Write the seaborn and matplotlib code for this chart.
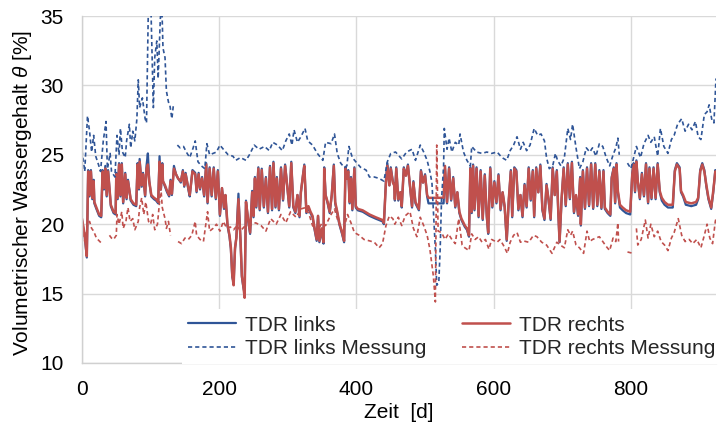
import numpy as np
import pandas as pd
import matplotlib
matplotlib.use("Agg")
import matplotlib.pyplot as plt
from matplotlib.lines import Line2D
import seaborn as sns

# model curves (TDR links / TDR rechts)
model_day = [0, 4, 7, 9, 11, 13, 15, 17, 18, 21, 25, 28, 30, 32, 34, 36, 38, 42, 46, 49,
             50, 52, 54, 56, 58, 60, 63, 65, 67, 71, 75, 79, 81, 83, 84, 87, 89, 92, 94, 96,
             98, 101, 105, 108, 111, 113, 115, 117, 118, 121, 124, 127, 129, 131, 134, 137, 140, 144, 147, 149,
             151, 155, 157, 161, 165, 167, 170, 172, 175, 178, 181, 183, 186, 189, 192, 195, 198, 201, 204, 207,
             209, 212, 215, 217, 219, 221, 223, 225,
             228, 231, 233, 235, 237, 239, 242, 245, 248, 250, 252, 254, 257, 259, 262, 265, 268, 271, 274, 277,
             279, 282, 284, 287, 290, 293, 296, 299, 302, 305, 308, 311, 314, 317, 319, 322, 324, 327, 330, 333,
             336, 339, 342, 344, 346, 349, 352, 353, 355, 358, 361, 364, 367, 369, 372, 375, 379, 382, 384, 386,
             388, 390, 392, 394, 397, 399, 402, 409, 419, 428, 438, 440, 443, 445, 448, 450, 453,
             455, 456, 458, 461, 464, 466, 469, 472, 475, 478, 481, 483, 486, 489, 491, 494, 497, 500, 503, 505,
             524, 527, 529, 532, 535, 538, 541, 544, 547, 550, 553, 556, 558, 561, 564, 566, 568, 570, 572, 575,
             578, 581, 584, 587, 590, 592, 595, 598, 601, 604, 607, 610, 613, 616, 619, 622, 625, 627, 630, 633,
             636, 639, 642, 645, 648, 651, 654, 657, 659, 662, 665, 668, 671, 674, 677, 680, 683, 686, 689, 692,
             694, 696, 699, 702, 705, 708, 711, 714, 717, 720, 723, 726, 727, 730, 733, 736, 739, 742, 745, 748,
             751, 754, 757, 760, 762, 766, 770, 772, 775, 777, 779, 781, 784, 788, 793, 799, 802, 804, 806, 808,
             810, 813, 816, 819, 822, 825, 827, 830, 833, 836, 839, 842, 845, 849, 854, 861, 864, 867, 871, 873,
             876, 880, 888, 895, 898, 901, 904, 907, 910, 913, 917, 920, 923, 924]

tdr_rechts = [20.4, 19.2, 17.7, 23.8, 22.1, 23.8, 21.9, 23.1, 21.6, 21.2, 20.7, 20.6, 23.8, 22.6, 24.0, 22.1, 23.8, 21.4, 20.9, 20.8,
              23.6, 21.9, 24.3, 22.1, 24.3, 21.6, 23.6, 21.9, 23.1, 21.8, 21.5, 21.4, 24.3, 22.6, 24.5, 22.8, 23.6, 22.1, 24.0, 24.3,
              23.1, 22.1, 21.9, 21.8, 21.6, 24.5, 22.6, 24.3, 23.1, 22.8, 22.4, 22.1, 23.1, 22.2, 24.0, 23.6, 23.3, 23.1, 23.8, 22.8,
              23.6, 22.6, 22.1, 23.8, 23.6, 22.4, 23.6, 22.6, 23.3, 22.1, 24.3, 21.6, 24.0, 22.1, 24.0, 21.9, 23.8, 20.7, 22.6, 21.2,
              22.1, 20.0, 19.2, 18.3, 16.3, 15.6, 18.3, 19.0,
              21.8, 18.9, 16.3, 15.6, 14.7, 21.6, 20.4, 19.4, 22.3, 20.6, 23.3, 21.3, 24.0, 21.1, 23.9, 21.3, 23.3, 20.9, 24.1, 21.1,
              24.4, 21.3, 23.3, 21.1, 24.0, 21.8, 24.2, 22.8, 21.3, 24.4, 21.3, 20.9, 22.1, 20.6, 22.3, 23.5, 24.2, 20.9, 21.3, 20.9,
              20.6, 19.7, 18.9, 20.6, 18.8, 19.7, 18.7, 24.0, 22.1, 21.6, 20.9, 22.1, 24.2, 21.6, 20.9, 20.1, 19.4, 18.8, 24.0, 23.3,
              23.8, 21.6, 23.3, 21.1, 24.0, 21.3, 21.1, 21.0, 20.7, 20.5, 20.3, 20.1, 23.0, 24.2, 22.8, 24.0, 23.0,
              22.8, 21.8, 24.0, 21.8, 22.3, 21.3, 24.0, 23.5, 24.2, 22.8, 21.3, 23.0, 21.6, 21.3, 21.1, 23.8, 23.0, 23.5, 22.1, 21.9,
              21.9, 21.9, 24.2, 21.6, 24.0, 21.8, 23.3, 21.3, 22.3, 20.9, 20.4, 20.1, 19.9, 19.7, 19.2, 24.0, 20.9, 24.2, 21.1, 24.0,
              20.6, 23.8, 20.4, 23.5, 20.6, 19.4, 24.0, 21.3, 23.0, 21.6, 23.5, 21.1, 22.3, 21.3, 18.9, 21.8, 23.8, 20.6, 24.0, 23.8,
              21.1, 22.1, 20.6, 22.8, 21.3, 24.0, 21.8, 23.8, 20.6, 24.0, 22.3, 24.2, 21.1, 20.4, 22.8, 21.8, 20.4, 24.0, 22.1, 23.8,
              21.1, 18.75, 21.9, 24.0, 21.4, 24.3, 21.9, 24.4, 20.9, 22.1, 20.7, 23.3, 20.0, 23.8, 21.2, 24.0, 21.4, 24.3, 21.2, 24.3,
              21.4, 23.8, 21.2, 23.8, 21.2, 20.9, 20.7, 23.3, 24.0, 21.6, 24.3, 22.4, 21.4, 21.2, 21.0, 20.9, 23.6, 24.3, 22.4, 24.5,
              23.1, 21.9, 23.6, 22.1, 24.3, 21.6, 24.0, 21.9, 24.0, 21.9, 24.3, 22.4, 21.9, 21.6, 21.4, 21.4, 23.8, 24.3, 24.0, 22.4,
              22.1, 21.6, 21.5, 21.6, 21.9, 23.8, 24.3, 23.8, 22.8, 21.9, 21.2, 22.4, 23.8, 23.6]

tdr_links = [20.3, 19.1, 17.6, 23.9, 22.0, 23.9, 21.8, 23.2, 21.5, 21.1, 20.6, 20.5, 23.9, 22.5, 24.2, 22.0, 23.9, 21.3, 20.8, 20.7,
             23.7, 21.8, 24.4, 22.0, 24.4, 21.5, 23.7, 21.8, 23.2, 21.7, 21.4, 21.3, 24.4, 22.5, 24.7, 22.7, 23.7, 22.0, 24.2, 25.1,
             23.1, 22.0, 21.8, 21.7, 21.5, 24.9, 22.5, 24.4, 23.1, 22.7, 22.3, 22.0, 23.2, 22.1, 24.2, 23.6, 23.3, 23.0, 23.9, 22.7,
             23.7, 22.5, 22.0, 23.9, 23.7, 22.3, 23.7, 22.5, 23.4, 22.0, 24.4, 21.5, 24.1, 22.0, 24.1, 21.8, 23.9, 20.6, 22.6, 21.1,
             22.1, 19.9, 19.1, 18.2, 16.2, 15.8, 18.2, 19.1,
             22.2, 18.8, 16.2, 15.5, 15.0, 21.7, 20.3, 19.3, 22.4, 20.5, 23.4, 21.2, 24.1, 21.0, 24.0, 21.2, 23.4, 20.8, 24.2, 21.0,
             24.5, 21.2, 23.4, 21.0, 24.1, 21.7, 24.3, 22.8, 21.2, 24.5, 21.2, 20.8, 22.1, 20.5, 22.3, 23.5, 24.3, 20.8, 21.2, 20.8,
             20.5, 19.6, 18.8, 20.6, 18.7, 19.6, 18.6, 24.1, 22.1, 21.5, 20.8, 22.1, 24.3, 21.5, 20.8, 20.0, 19.3, 18.7, 24.1, 23.3,
             23.9, 21.5, 23.4, 21.0, 24.1, 21.2, 21.0, 20.9, 20.6, 20.4, 20.2, 20.0, 23.2, 24.4, 22.8, 24.1, 23.1,
             22.8, 21.7, 24.1, 21.7, 22.3, 21.2, 24.1, 23.5, 24.3, 22.7, 21.2, 23.1, 21.5, 21.2, 21.0, 23.9, 23.0, 23.6, 22.0, 21.5,
             21.5, 21.5, 24.0, 21.5, 24.1, 21.7, 23.4, 21.2, 22.3, 20.8, 20.3, 20.0, 19.8, 19.6, 19.1, 24.1, 20.8, 24.3, 21.0, 24.1,
             20.5, 23.9, 20.3, 23.6, 20.5, 19.3, 24.1, 21.2, 23.1, 21.5, 23.6, 21.0, 22.3, 21.2, 18.8, 21.7, 23.9, 20.5, 24.1, 23.9,
             21.0, 22.1, 20.5, 22.9, 21.2, 24.1, 21.7, 23.9, 20.5, 24.1, 22.3, 24.3, 21.0, 20.3, 22.9, 21.7, 20.3, 24.1, 22.1, 23.9,
             21.0, 18.7, 21.8, 24.1, 21.3, 24.4, 21.8, 24.5, 20.8, 22.0, 20.6, 23.4, 19.9, 23.9, 21.1, 24.1, 21.3, 24.4, 21.1, 24.4,
             21.3, 23.9, 21.1, 23.9, 21.1, 20.8, 20.6, 23.4, 24.1, 21.5, 24.4, 22.3, 21.2, 21.0, 20.8, 20.7, 23.7, 24.4, 22.3, 24.6,
             23.1, 21.8, 23.7, 22.0, 24.4, 21.5, 24.1, 21.8, 24.1, 21.8, 24.4, 22.3, 21.7, 21.4, 21.2, 21.2, 23.9, 24.4, 24.1, 22.3,
             22.0, 21.4, 21.3, 21.4, 21.8, 23.9, 24.4, 23.9, 22.7, 21.8, 21.1, 22.3, 23.9, 23.7]

# measurements (None = gap in the record)
mess_links_day = [0, 4, 8, 11, 14, 17, 20, 24, 27, 31, 35, 37, 41, 43, 48, 51, 54, 56, 59, 63,
                  65, 69, 71, 74, 77, 80, 82, 84, 88, 92, 94, 97, 100, 104, 106, 109, 111, 114, 116, 118,
                  121, 123, 126, 128, 131, 133, 136,
                  139, 143, 148, 152, 157, 162, 165, 169, 174, 179, 182, 186, 191, 196, 201, 206, 213, 220, 224, 231,
                  239, 244, 251, 258, 266, 273, 278, 285, 292, 297, 302, 306, 309, 314, 319, 325, 329, 336, 343, 351,
                  355, 363, 368, 372, 377, 382, 386, 389, 394, 399, 406, 414, 419, 426, 433, 440, 445, 450, 457, 466,
                  473, 481, 486, 493, 498, 503, 507, 510, 512, 515, 517, 520, 522, 524, 527, 528, 532, 535, 539, 544,
                  549, 551, 556, 561, 566, 568, 575, 583, 590, 597, 605, 612, 619, 624, 629, 634, 639, 643, 648, 653,
                  659, 664, 669, 674, 677, 681, 686, 690, 693, 698, 703, 708, 712, 715, 720, 725, 730, 735, 740, 744,
                  749, 754, 759, 764, 769, 774, 778, 781, 783, 789,
                  795, 800, 808, 814, 819, 825, 829, 834, 839, 843, 848, 854, 859, 863, 868, 874, 879, 884, 889, 894,
                  898, 902, 907, 911, 914, 918, 921, 924]
mess_links = [25.3, 23.8, 27.8, 26.7, 25.2, 26.4, 24.9, 24.3, 23.8, 26.0, 27.4, 24.0, 25.1, 23.8, 23.4, 26.4, 25.0, 26.9, 25.2, 24.8,
              26.0, 27.2, 25.5, 26.7, 26.0, 27.6, 30.4, 28.4, 29.1, 27.6, 27.3, 36.5, 36.5, 28.4, 32.0, 33.2, 30.5, 34.6, 36.5, 32.7,
              32.0, 29.6, 28.8, 28.6, 27.6, 28.5, None,
              25.7, 25.5, 25.6, 25.2, 24.8, 25.5, 26.0, 24.5, 24.2, 24.0, 25.8, 25.0, 25.1, 25.2, 25.7, 25.4, 25.0, 24.9, 24.6, 24.8,
              24.6, 25.0, 25.7, 25.4, 25.6, 25.3, 25.9, 25.7, 25.3, 26.0, 26.5, 25.7, 26.8, 25.9, 26.3, 26.9, 26.0, 25.7, 25.1, 24.6,
              25.9, 25.8, 26.5, 25.1, 24.4, 24.1, 24.2, 25.6, 24.8, 24.5, 24.1, 23.9, 23.4, 23.4, 23.3, 23.1, 24.5, 25.1, 25.2, 24.7,
              25.2, 25.4, 24.6, 25.7, 25.2, 24.6, 23.8, 23.0, 21.1, 18.2, 15.6, 15.8, 18.2, 21.8, 24.2, 26.9, 25.4, 26.2, 25.2, 25.9,
              25.7, 26.5, 25.2, 24.6, 24.2, 25.6, 25.2, 25.1, 25.2, 25.1, 25.2, 24.8, 24.6, 25.3, 25.7, 26.3, 25.4, 25.9, 25.3, 25.7,
              26.9, 26.4, 26.5, 26.0, 24.8, 24.0, 24.2, 25.1, 24.6, 24.2, 24.8, 26.9, 26.1, 27.2, 25.5, 24.0, 24.5, 25.5, 25.2, 25.5,
              24.9, 25.8, 25.6, 24.8, 24.2, 25.0, 25.5, 26.2, 25.0, None,
              24.4, 24.0, 25.6, 24.8, 25.8, 26.4, 25.9, 26.3, 24.9, 26.9, 25.6, 25.1, 26.1, 26.4, 27.2, 27.6, 26.7, 27.2, 26.8, 27.4,
              26.3, 26.1, 27.9, 28.1, 28.6, 27.5, 27.3, 30.5]

mess_rechts_day = [0, 4, 8, 11, 14, 17, 21, 26, 29, 34,
                   40, 43, 46, 50, 51, 54, 58, 60, 64, 67, 70, 74, 77, 82, 84, 87, 90, 93, 97, 100,
                   103, 106, 110, 113, 115, 117, 121, 123, 126, 129, 134,
                   140, 145, 150, 155, 160, 165, 167, 172, 177, 181, 183, 186, 191, 196, 201, 206, 211, 216, 221, 226,
                   231, 236, 244, 253, 261, 268, 275, 283, 290, 297, 304, 312, 319, 326, 331, 336, 343, 350, 355, 363,
                   368, 372, 380, 387, 392, 397, 404, 411, 419, 426, 433, 438, 443, 448, 453, 456, 461, 466, 471, 478,
                   483, 488, 493, 498, 503, 507, 512, 515, 517, 519, 524, 529, 534, 539, 544, 549, 554, 558, 564, 568,
                   573, 578, 583, 588, 593, 597, 605, 609, 614, 620, 624, 629, 634, 639, 643, 651, 658, 663, 670, 677,
                   685, 692, 697, 703, 708, 712, 715, 720, 725, 731, 736, 740, 744, 749, 754, 759, 764, 769, 774, 778,
                   781, 782, 788,
                   795, 803, 806,
                   808, 810, 815, 821, 825, 829, 834, 839, 844, 849, 854, 859, 863, 869, 874, 879, 885, 890, 896, 902,
                   907, 911, 915, 919, 923, 924]
mess_rechts = [19.9, 18.75, 19.95, 20.2, 19.7, 19.5, 19.0, 18.75, 18.6, None,
               19.2, 19.0, 18.9, 19.2, 20.7, 20.0, 20.9, 19.7, 20.2, 21.2, 20.2, 20.4, 19.6, 20.2, 21.2, 21.9, 20.7, 21.6, 20.2, 20.0,
               20.7, 19.6, 20.0, 21.6, 22.6, 21.2, 20.4, 19.7, 20.2, 19.2, None,
               18.75, 18.6, 19.0, 18.9, 19.2, 20.2, 19.2, 18.9, 18.75, 20.2, 20.9, 19.5, 19.7, 20.0, 19.5, 20.2, 19.7, 19.8, 19.6, 19.9,
               19.5, 19.8, 19.9, 20.1, 19.9, 19.5, 20.4, 20.0, 20.7, 20.1, 20.9, 20.5, 21.1, 21.2, 20.7, 19.9, 19.5, 20.1, 19.9, 20.7,
               21.1, 20.4, 19.4, 20.7, 20.1, 19.4, 19.2, 18.9, 18.8, 18.7, 18.3, 18.6, 19.9, 20.6, 20.4, 20.0, 20.5, 19.9, 20.6, 20.9,
               19.7, 19.1, 20.5, 19.9, 19.2, 18.2, 16.3, 14.4, 25.7, 19.5, 19.4, 18.9, 19.3, 18.9, 18.6, 20.4, 18.5, 18.3, 18.1, 19.3,
               18.9, 19.1, 18.7, 18.9, 18.2, 18.9, 18.7, 18.9, 18.5, 17.9, 18.7, 19.2, 19.4, 18.7, 18.8, 18.7, 19.2, 19.1, 18.7, 18.5,
               17.9, 18.7, 18.5, 18.3, 19.6, 19.2, 19.5, 18.5, 18.3, 17.9, 19.5, 18.75, 18.9, 19.0, 19.1, 18.75, 18.4, 18.1, 19.0, 18.75,
               20.1, 18.75, None,
               18.0, 17.9, None,
               19.7, 18.5, 18.9, 20.3, 19.0, 20.0, 19.1, 19.5, 18.75, 18.5, 18.1, 19.0, 19.4, 20.4, 19.2, 18.75, 18.9, 18.6, 18.9, 18.3,
               19.2, 20.0, 19.0, 18.6, 20.2, 20.4]

x_ticks = [0, 200, 400, 600, 800]
y_ticks = [10, 15, 20, 25, 30, 35]


def to_frame(days, values):
    # split the record at None so seaborn draws separate pieces
    rows = []
    seg = 0
    for d, v in zip(days, values):
        if v is None:
            seg += 1
            continue
        rows.append((d, v, seg))
    return pd.DataFrame(rows, columns=['day', 'theta', 'seg'])


sns.set_theme(style='whitegrid')
plt.rcParams['font.family'] = ['Liberation Sans', 'DejaVu Sans']
plt.rcParams['mathtext.fontset'] = 'custom'
plt.rcParams['mathtext.it'] = 'Liberation Sans:italic'
plt.rcParams['mathtext.rm'] = 'Liberation Sans'

blue = '#2F5597'
red = '#C0504D'
fs = 15
dash = (0, (2.5, 1.8))

fig = plt.figure(figsize=(7.19, 4.32), dpi=100)
ax = fig.add_axes([82 / 719, 69 / 432, 634 / 719, 347 / 432])

df_links = pd.DataFrame({'day': model_day, 'theta': tdr_links, 'seg': 0})
df_rechts = pd.DataFrame({'day': model_day, 'theta': tdr_rechts, 'seg': 0})
df_ml = to_frame(mess_links_day, mess_links)
df_mr = to_frame(mess_rechts_day, mess_rechts)

sns.lineplot(data=df_links, x='day', y='theta', units='seg', estimator=None, sort=False,
             color=blue, lw=1.6, ax=ax, legend=False)
sns.lineplot(data=df_rechts, x='day', y='theta', units='seg', estimator=None, sort=False,
             color=red, lw=1.8, ax=ax, legend=False)
sns.lineplot(data=df_ml, x='day', y='theta', units='seg', estimator=None, sort=False,
             color=blue, lw=1.2, linestyle=dash, ax=ax, legend=False)
sns.lineplot(data=df_mr, x='day', y='theta', units='seg', estimator=None, sort=False,
             color=red, lw=1.2, linestyle=dash, ax=ax, legend=False)

ax.set_xlim(0, 924)
ax.set_ylim(10, 35)
ax.set_xticks(x_ticks)
ax.set_yticks(y_ticks)
ax.grid(True, color='#D9D9D9', lw=1.0)
ax.tick_params(axis='both', length=0, labelsize=fs, colors='#000000')
ax.tick_params(axis='x', pad=12)
ax.tick_params(axis='y', pad=13)
for side in ['top', 'right']:
    ax.spines[side].set_visible(False)
for side in ['left', 'bottom']:
    ax.spines[side].set_color('#D0D0D0')
    ax.spines[side].set_linewidth(1.0)

ax.set_xlabel('Zeit  [d]', fontsize=fs, color='black')
ax.set_ylabel(r'Volumetrischer Wassergehalt $\theta$ [%]', fontsize=fs, color='black')
ax.yaxis.set_label_coords(-0.075, 0.49)
ax.xaxis.set_label_coords(0.5, -0.115)

handles = [Line2D([], [], color=blue, lw=1.6),
           Line2D([], [], color=blue, lw=1.2, linestyle=dash),
           Line2D([], [], color=red, lw=1.8),
           Line2D([], [], color=red, lw=1.2, linestyle=dash)]
labels = ['TDR links', 'TDR links Messung', 'TDR rechts', 'TDR rechts Messung']
leg = ax.legend(handles, labels, ncol=2, loc='lower right', bbox_to_anchor=(1.0095, -0.004),
                borderaxespad=0, borderpad=0.3, frameon=True, facecolor='white', edgecolor='none',
                framealpha=1, fancybox=False, handlelength=2.3, handletextpad=0.45,
                columnspacing=1.7, labelspacing=0.22, fontsize=fs)

fig.savefig('out.png', dpi=100)
